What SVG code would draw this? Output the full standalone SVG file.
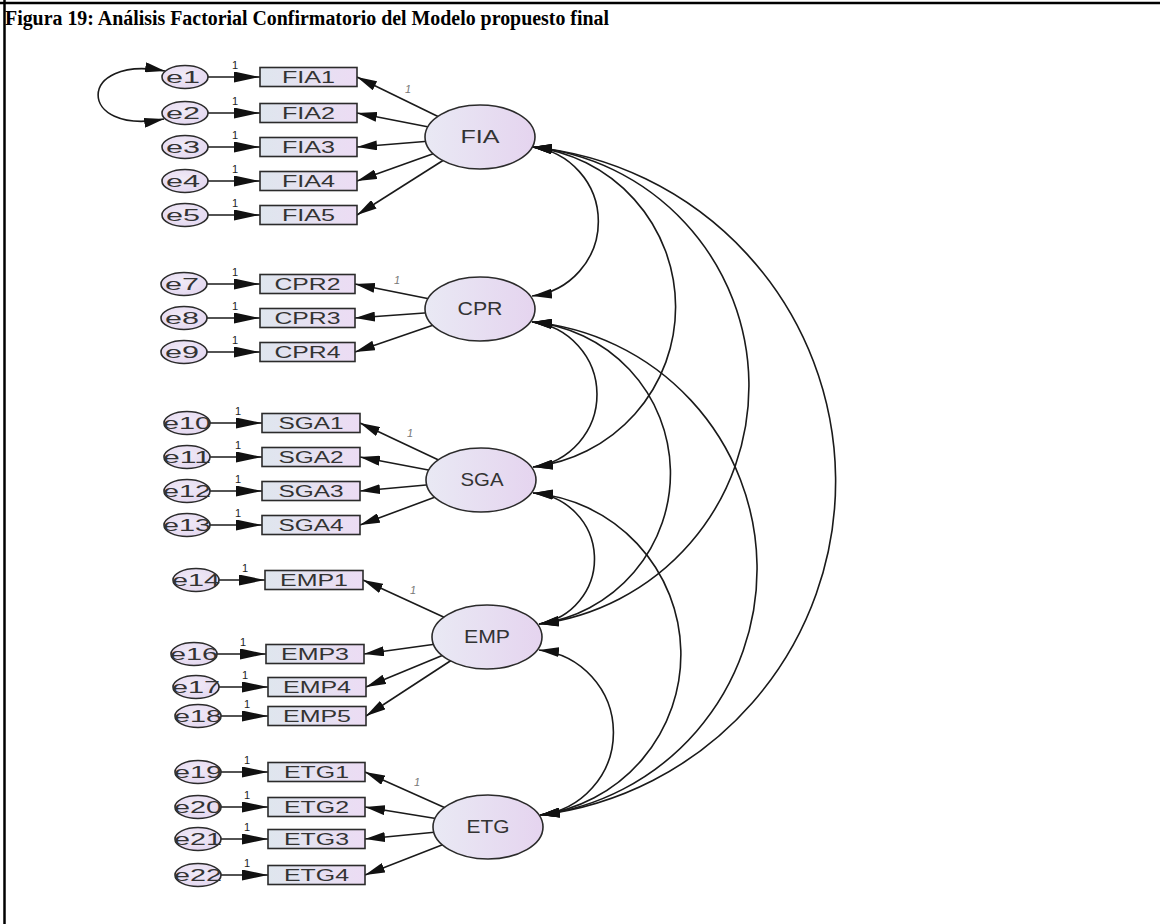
<svg xmlns="http://www.w3.org/2000/svg" width="1160" height="924" viewBox="0 0 1160 924">
<defs>
<linearGradient id="gObs" x1="0" y1="0" x2="1" y2="0"><stop offset="0" stop-color="#dfe6ee"/><stop offset="1" stop-color="#ecdcf4"/></linearGradient>
<linearGradient id="gLat" x1="0" y1="0" x2="1" y2="0"><stop offset="0" stop-color="#e9e9f4"/><stop offset="1" stop-color="#e5d4ef"/></linearGradient>
<radialGradient id="gErr" cx="0.45" cy="0.4" r="0.7"><stop offset="0" stop-color="#f1ebf7"/><stop offset="1" stop-color="#e2d5ef"/></radialGradient>
<marker id="ah" viewBox="0 0 20 10" refX="20" refY="5" markerWidth="20" markerHeight="10" markerUnits="userSpaceOnUse" orient="auto-start-reverse"><path d="M0,0 L20,5 L0,10 z" fill="#111"/></marker>
<marker id="ahw" viewBox="0 0 26 11" refX="26" refY="5.5" markerWidth="26" markerHeight="11" markerUnits="userSpaceOnUse" orient="auto"><path d="M0,0 L26,5.5 L0,11 z" fill="#111"/></marker>
<style>
.lat{fill:url(#gLat);stroke:#2b2b2b;stroke-width:1.6}
.err{fill:url(#gErr);stroke:#2b2b2b;stroke-width:1.6}
.obs{fill:url(#gObs);stroke:#2b2b2b;stroke-width:1.6}
.t{font-family:"Liberation Sans",Arial,sans-serif;fill:#333;text-anchor:middle}
.lb{font-size:16px}
.lt{font-size:18px}
.one{font-family:"Liberation Sans",Arial,sans-serif;font-size:11px;fill:#222;text-anchor:middle}
.onei{font-family:"Liberation Sans",Arial,sans-serif;font-size:11px;fill:#777;font-style:italic;text-anchor:middle}
.ln{stroke:#1a1a1a;stroke-width:1.6;fill:none}
.ttl{font-family:"Liberation Serif","Times New Roman",serif;font-weight:bold;font-size:20px;fill:#000}
</style>
</defs>
<rect width="1160" height="924" fill="#fff"/>
<line x1="0" y1="3" x2="1160" y2="3" stroke="#000" stroke-width="2.5"/>
<line x1="4.5" y1="0" x2="4.5" y2="924" stroke="#000" stroke-width="2.5"/>
<text class="ttl" x="5" y="25" textLength="604" lengthAdjust="spacingAndGlyphs">Figura 19: Análisis Factorial Confirmatorio del Modelo propuesto final</text>

<g id="connectors">
<g class="ln" marker-end="url(#ahw)">
<line x1="208" y1="77" x2="260" y2="77"/><line x1="208" y1="113" x2="260" y2="113"/><line x1="208" y1="147" x2="260" y2="147"/><line x1="208" y1="181" x2="260" y2="181"/><line x1="208" y1="215" x2="260" y2="215"/>
<line x1="207" y1="284" x2="260" y2="284"/><line x1="207" y1="318" x2="260" y2="318"/><line x1="207" y1="352" x2="260" y2="352"/>
<line x1="210" y1="423" x2="262" y2="423"/><line x1="210" y1="457" x2="262" y2="457"/><line x1="210" y1="491" x2="262" y2="491"/><line x1="210" y1="525" x2="262" y2="525"/>
<line x1="219" y1="580" x2="265" y2="580"/><line x1="217" y1="654" x2="266" y2="654"/><line x1="219" y1="687" x2="268" y2="687"/><line x1="221" y1="716" x2="268" y2="716"/>
<line x1="221" y1="772" x2="268" y2="772"/><line x1="221" y1="807" x2="268" y2="807"/><line x1="221" y1="839" x2="268" y2="839"/><line x1="221" y1="875" x2="268" y2="875"/>
</g>
<g class="ln" marker-end="url(#ah)">
<line x1="480" y1="137" x2="357" y2="77"/><line x1="480" y1="137" x2="357" y2="113"/><line x1="480" y1="137" x2="357" y2="147"/><line x1="480" y1="137" x2="357" y2="181"/><line x1="480" y1="137" x2="357" y2="215"/>
<line x1="480" y1="309" x2="355" y2="284"/><line x1="480" y1="309" x2="355" y2="318"/><line x1="480" y1="309" x2="355" y2="352"/>
<line x1="481" y1="480" x2="360" y2="423"/><line x1="481" y1="480" x2="360" y2="457"/><line x1="481" y1="480" x2="360" y2="491"/><line x1="481" y1="480" x2="360" y2="525"/>
<line x1="487" y1="637" x2="363" y2="580"/><line x1="487" y1="637" x2="364" y2="654"/><line x1="487" y1="637" x2="366" y2="687"/><line x1="487" y1="637" x2="366" y2="716"/>
<line x1="488" y1="827" x2="365" y2="772"/><line x1="488" y1="827" x2="365" y2="807"/><line x1="488" y1="827" x2="365" y2="839"/><line x1="488" y1="827" x2="365" y2="875"/>
</g>
<g class="ln" marker-start="url(#ah)" marker-end="url(#ah)">
<path d="M165,71 C76,54 76,136 164,119"/>
<path d="M532,147 A75,75 0 0 1 532,296"/>
<path d="M532,147 A161,161 0 0 1 533,467"/>
<path d="M532,147 A240,240 0 0 1 539,624"/>
<path d="M532,147 A336,336 0 0 1 540,815"/>
<path d="M532,322 A73,73 0 0 1 533,467"/>
<path d="M532,322 A152,152 0 0 1 539,624"/>
<path d="M532,322 A248,248 0 0 1 540,815"/>
<path d="M533,493 A66,66 0 0 1 539,624"/>
<path d="M533,493 A162,162 0 0 1 540,815"/>
<path d="M539,650 A83,83 0 0 1 540,815"/>
</g>
<text class="one" x="235" y="69">1</text><text class="one" x="235" y="105">1</text><text class="one" x="235" y="139">1</text><text class="one" x="235" y="173">1</text><text class="one" x="235" y="207">1</text>
<text class="one" x="235" y="276">1</text><text class="one" x="235" y="310">1</text><text class="one" x="235" y="344">1</text>
<text class="one" x="238" y="415">1</text><text class="one" x="238" y="449">1</text><text class="one" x="238" y="483">1</text><text class="one" x="238" y="517">1</text>
<text class="one" x="245" y="572">1</text><text class="one" x="243" y="646">1</text><text class="one" x="245" y="679">1</text><text class="one" x="247" y="708">1</text>
<text class="one" x="247" y="764">1</text><text class="one" x="247" y="799">1</text><text class="one" x="247" y="831">1</text><text class="one" x="247" y="867">1</text>
<text class="onei" x="408" y="93">1</text>
<text class="onei" x="397" y="284">1</text>
<text class="onei" x="410" y="437">1</text>
<text class="onei" x="413" y="594">1</text>
<text class="onei" x="417" y="786">1</text>
</g>

<g id="FIA"><ellipse class="lat" cx="480" cy="137" rx="55" ry="32"/><text class="t lt" x="480" y="143" textLength="39" lengthAdjust="spacingAndGlyphs">FIA</text></g>
<g id="FIA1"><rect class="obs" x="260" y="67.5" width="97" height="19"/><text class="t lb" x="308.5" y="83" textLength="53" lengthAdjust="spacingAndGlyphs">FIA1</text></g>
<g id="FIA2"><rect class="obs" x="260" y="103.5" width="97" height="19"/><text class="t lb" x="308.5" y="119" textLength="53" lengthAdjust="spacingAndGlyphs">FIA2</text></g>
<g id="FIA3"><rect class="obs" x="260" y="137.5" width="97" height="19"/><text class="t lb" x="308.5" y="153" textLength="53" lengthAdjust="spacingAndGlyphs">FIA3</text></g>
<g id="FIA4"><rect class="obs" x="260" y="171.5" width="97" height="19"/><text class="t lb" x="308.5" y="187" textLength="53" lengthAdjust="spacingAndGlyphs">FIA4</text></g>
<g id="FIA5"><rect class="obs" x="260" y="205.5" width="97" height="19"/><text class="t lb" x="308.5" y="221" textLength="53" lengthAdjust="spacingAndGlyphs">FIA5</text></g>
<g id="e1"><ellipse class="err" cx="185" cy="77" rx="23" ry="11.5"/><text class="t lb" x="183" y="83" textLength="34" lengthAdjust="spacingAndGlyphs">e1</text></g>
<g id="e2"><ellipse class="err" cx="185" cy="113" rx="23" ry="11.5"/><text class="t lb" x="183" y="119" textLength="34" lengthAdjust="spacingAndGlyphs">e2</text></g>
<g id="e3"><ellipse class="err" cx="185" cy="147" rx="23" ry="11.5"/><text class="t lb" x="183" y="153" textLength="34" lengthAdjust="spacingAndGlyphs">e3</text></g>
<g id="e4"><ellipse class="err" cx="185" cy="181" rx="23" ry="11.5"/><text class="t lb" x="183" y="187" textLength="34" lengthAdjust="spacingAndGlyphs">e4</text></g>
<g id="e5"><ellipse class="err" cx="185" cy="215" rx="23" ry="11.5"/><text class="t lb" x="183" y="221" textLength="34" lengthAdjust="spacingAndGlyphs">e5</text></g>

<g id="CPR"><ellipse class="lat" cx="480" cy="309" rx="55" ry="32"/><text class="t lt" x="480" y="315" textLength="45" lengthAdjust="spacingAndGlyphs">CPR</text></g>
<g id="CPR2"><rect class="obs" x="260" y="274.5" width="95" height="19"/><text class="t lb" x="307.5" y="290" textLength="66" lengthAdjust="spacingAndGlyphs">CPR2</text></g>
<g id="CPR3"><rect class="obs" x="260" y="308.5" width="95" height="19"/><text class="t lb" x="307.5" y="324" textLength="66" lengthAdjust="spacingAndGlyphs">CPR3</text></g>
<g id="CPR4"><rect class="obs" x="260" y="342.5" width="95" height="19"/><text class="t lb" x="307.5" y="358" textLength="66" lengthAdjust="spacingAndGlyphs">CPR4</text></g>
<g id="e7"><ellipse class="err" cx="184" cy="284" rx="23" ry="11.5"/><text class="t lb" x="182" y="290" textLength="34" lengthAdjust="spacingAndGlyphs">e7</text></g>
<g id="e8"><ellipse class="err" cx="184" cy="318" rx="23" ry="11.5"/><text class="t lb" x="182" y="324" textLength="34" lengthAdjust="spacingAndGlyphs">e8</text></g>
<g id="e9"><ellipse class="err" cx="184" cy="352" rx="23" ry="11.5"/><text class="t lb" x="182" y="358" textLength="34" lengthAdjust="spacingAndGlyphs">e9</text></g>

<g id="SGA"><ellipse class="lat" cx="481" cy="480" rx="55" ry="32"/><text class="t lt" x="482" y="486" textLength="43" lengthAdjust="spacingAndGlyphs">SGA</text></g>
<g id="SGA1"><rect class="obs" x="262" y="413.5" width="98" height="19"/><text class="t lb" x="311" y="429" textLength="65" lengthAdjust="spacingAndGlyphs">SGA1</text></g>
<g id="SGA2"><rect class="obs" x="262" y="447.5" width="98" height="19"/><text class="t lb" x="311" y="463" textLength="65" lengthAdjust="spacingAndGlyphs">SGA2</text></g>
<g id="SGA3"><rect class="obs" x="262" y="481.5" width="98" height="19"/><text class="t lb" x="311" y="497" textLength="65" lengthAdjust="spacingAndGlyphs">SGA3</text></g>
<g id="SGA4"><rect class="obs" x="262" y="515.5" width="98" height="19"/><text class="t lb" x="311" y="531" textLength="65" lengthAdjust="spacingAndGlyphs">SGA4</text></g>
<g id="e10"><ellipse class="err" cx="187" cy="423" rx="23" ry="11.5"/><text class="t lb" x="187" y="429" textLength="48" lengthAdjust="spacingAndGlyphs">e10</text></g>
<g id="e11"><ellipse class="err" cx="187" cy="457" rx="23" ry="11.5"/><text class="t lb" x="187" y="463" textLength="48" lengthAdjust="spacingAndGlyphs">e11</text></g>
<g id="e12"><ellipse class="err" cx="187" cy="491" rx="23" ry="11.5"/><text class="t lb" x="187" y="497" textLength="48" lengthAdjust="spacingAndGlyphs">e12</text></g>
<g id="e13"><ellipse class="err" cx="187" cy="525" rx="23" ry="11.5"/><text class="t lb" x="187" y="531" textLength="48" lengthAdjust="spacingAndGlyphs">e13</text></g>

<g id="EMP"><ellipse class="lat" cx="487" cy="637" rx="55" ry="32"/><text class="t lt" x="487" y="643" textLength="46" lengthAdjust="spacingAndGlyphs">EMP</text></g>
<g id="EMP1"><rect class="obs" x="265" y="570.5" width="98" height="19"/><text class="t lb" x="314" y="586" textLength="68" lengthAdjust="spacingAndGlyphs">EMP1</text></g>
<g id="EMP3"><rect class="obs" x="266" y="644.5" width="98" height="19"/><text class="t lb" x="315" y="660" textLength="68" lengthAdjust="spacingAndGlyphs">EMP3</text></g>
<g id="EMP4"><rect class="obs" x="268" y="677.5" width="98" height="19"/><text class="t lb" x="317" y="693" textLength="68" lengthAdjust="spacingAndGlyphs">EMP4</text></g>
<g id="EMP5"><rect class="obs" x="268" y="706.5" width="98" height="19"/><text class="t lb" x="317" y="722" textLength="68" lengthAdjust="spacingAndGlyphs">EMP5</text></g>
<g id="e14"><ellipse class="err" cx="196" cy="580" rx="23" ry="11.5"/><text class="t lb" x="196" y="586" textLength="48" lengthAdjust="spacingAndGlyphs">e14</text></g>
<g id="e16"><ellipse class="err" cx="194" cy="654" rx="23" ry="11.5"/><text class="t lb" x="194" y="660" textLength="48" lengthAdjust="spacingAndGlyphs">e16</text></g>
<g id="e17"><ellipse class="err" cx="196" cy="687" rx="23" ry="11.5"/><text class="t lb" x="196" y="693" textLength="48" lengthAdjust="spacingAndGlyphs">e17</text></g>
<g id="e18"><ellipse class="err" cx="198" cy="716" rx="23" ry="11.5"/><text class="t lb" x="198" y="722" textLength="48" lengthAdjust="spacingAndGlyphs">e18</text></g>

<g id="ETG"><ellipse class="lat" cx="488" cy="827" rx="55" ry="32"/><text class="t lt" x="488" y="833" textLength="43" lengthAdjust="spacingAndGlyphs">ETG</text></g>
<g id="ETG1"><rect class="obs" x="268" y="762.5" width="97" height="19"/><text class="t lb" x="316.5" y="778" textLength="65" lengthAdjust="spacingAndGlyphs">ETG1</text></g>
<g id="ETG2"><rect class="obs" x="268" y="797.5" width="97" height="19"/><text class="t lb" x="316.5" y="813" textLength="65" lengthAdjust="spacingAndGlyphs">ETG2</text></g>
<g id="ETG3"><rect class="obs" x="268" y="829.5" width="97" height="19"/><text class="t lb" x="316.5" y="845" textLength="65" lengthAdjust="spacingAndGlyphs">ETG3</text></g>
<g id="ETG4"><rect class="obs" x="268" y="865.5" width="97" height="19"/><text class="t lb" x="316.5" y="881" textLength="65" lengthAdjust="spacingAndGlyphs">ETG4</text></g>
<g id="e19"><ellipse class="err" cx="198" cy="772" rx="23" ry="11.5"/><text class="t lb" x="198" y="778" textLength="48" lengthAdjust="spacingAndGlyphs">e19</text></g>
<g id="e20"><ellipse class="err" cx="198" cy="807" rx="23" ry="11.5"/><text class="t lb" x="198" y="813" textLength="48" lengthAdjust="spacingAndGlyphs">e20</text></g>
<g id="e21"><ellipse class="err" cx="198" cy="839" rx="23" ry="11.5"/><text class="t lb" x="198" y="845" textLength="48" lengthAdjust="spacingAndGlyphs">e21</text></g>
<g id="e22"><ellipse class="err" cx="198" cy="875" rx="23" ry="11.5"/><text class="t lb" x="198" y="881" textLength="48" lengthAdjust="spacingAndGlyphs">e22</text></g>
</svg>
